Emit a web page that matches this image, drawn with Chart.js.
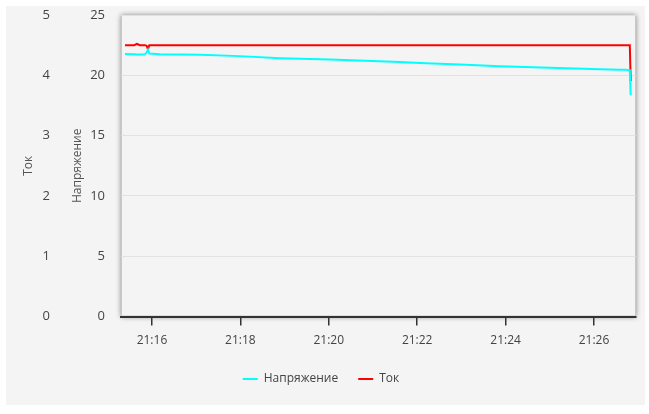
<!DOCTYPE html>
<html>
<head>
<meta charset="utf-8">
<script src="https://cdn.jsdelivr.net/npm/chart.js@4.4.1/dist/chart.umd.min.js"></script>
<style>
  html, body { margin: 0; padding: 0; background: #ffffff; }
  #wrap { position: absolute; left: 6px; top: 6px; width: 639px; height: 399px; background: #f4f4f4; }
  canvas { display: block; }
</style>
</head>
<body>
<div id="wrap"><canvas id="c" width="639" height="399"></canvas></div>
<script>
// Time in minutes after 21:00
const times = [15.39, 15.60, 15.66, 15.73, 15.84, 15.88, 15.91, 15.94, 16.18, 17.09, 17.99, 18.90, 20.03, 21.61, 22.06, 22.97, 23.87, 25.00, 26.14, 26.59, 26.70, 26.81, 26.83];
// Напряжение, V
const voltage = [21.76, 21.74, 21.73, 21.72, 21.74, 21.90, 22.13, 21.80, 21.74, 21.70, 21.59, 21.42, 21.30, 21.11, 21.03, 20.90, 20.76, 20.63, 20.51, 20.47, 20.47, 20.42, 18.34];
// Ток, A
const current = [4.50, 4.50, 4.52, 4.50, 4.50, 4.49, 4.43, 4.50, 4.50, 4.50, 4.50, 4.50, 4.50, 4.50, 4.50, 4.50, 4.50, 4.50, 4.50, 4.50, 4.50, 4.50, 3.90];
const xTicks = [16, 18, 20, 22, 24, 26];
const seriesNames = ['Напряжение', 'Ток'];

const txt = '#444444';
const fontFam = '"Open Sans", "Noto Sans", sans-serif';

const frame = {
  id: 'frame',
  beforeDraw(chart) {
    const {ctx, chartArea: a} = chart;
    ctx.save();
    ctx.shadowColor = 'rgba(0,0,0,0.45)';
    ctx.shadowBlur = 5;
    ctx.fillStyle = '#f4f4f4';
    ctx.fillRect(a.left, a.top, a.right - a.left, a.bottom - a.top);
    ctx.restore();
    ctx.save();
    ctx.strokeStyle = '#c8c8c8';
    ctx.lineWidth = 1;
    ctx.strokeRect(a.left + 0.5, a.top + 0.5, a.right - a.left - 1, a.bottom - a.top - 1);
    ctx.restore();
  }
};

function fixPad(s, w) {
  s.width = w;
  s.paddingTop = 8;
  s.paddingBottom = 8;
}

new Chart(document.getElementById('c'), {
  type: 'line',
  data: {
    datasets: [
      {
        label: seriesNames[0],
        data: times.map((t, i) => ({x: t, y: voltage[i]})),
        borderColor: '#00ffff',
        backgroundColor: '#00ffff',
        borderWidth: 2,
        pointRadius: 0,
        yAxisID: 'yV'
      },
      {
        label: seriesNames[1],
        data: times.map((t, i) => ({x: t, y: current[i]})),
        borderColor: '#ff0000',
        backgroundColor: '#ff0000',
        borderWidth: 2,
        pointRadius: 0,
        yAxisID: 'yI'
      }
    ]
  },
  options: {
    responsive: false,
    animation: false,
    layout: { padding: { left: 0, right: 9, top: 9, bottom: 10 } },
    plugins: {
      legend: {
        position: 'bottom',
        labels: {
          usePointStyle: true,
          pointStyle: 'line',
          pointStyleWidth: 15,
          boxHeight: 3,
          color: txt,
          padding: 20,
          font: { family: fontFam, size: 12 }
        }
      },
      tooltip: { enabled: false }
    },
    scales: {
      x: {
        type: 'linear',
        min: 15.30,
        max: 26.95,
        afterBuildTicks: s => { s.ticks = xTicks.map(v => ({value: v})); },
        afterFit: s => { s.height = 36.5; },
        ticks: {
          color: txt,
          padding: 7.5,
          font: { family: fontFam, size: 12 },
          callback: v => '21:' + String(Math.round(v)).padStart(2, '0')
        },
        grid: { drawOnChartArea: false, drawTicks: true, tickLength: 9, color: '#333333', lineWidth: 1.5 },
        border: { color: '#333333', width: 2 }
      },
      yV: {
        position: 'left',
        weight: 0,
        min: 0,
        max: 25,
        afterFit: s => fixPad(s, 61),
        ticks: { stepSize: 5, color: txt, padding: 16, font: { family: fontFam, size: 13 } },
        title: { display: true, text: seriesNames[0], color: '#555555', padding: { top: 10, bottom: 0 }, font: { family: fontFam, size: 12 } },
        grid: { color: '#e2e2e2', drawTicks: false, lineWidth: 1 },
        border: { display: false }
      },
      yI: {
        position: 'left',
        weight: 1,
        min: 0,
        max: 5,
        afterFit: s => fixPad(s, 54),
        ticks: { stepSize: 1, color: txt, padding: 10, font: { family: fontFam, size: 13 } },
        title: { display: true, text: seriesNames[1], color: '#555555', padding: { top: 15, bottom: 0 }, font: { family: fontFam, size: 12 } },
        grid: { display: false, drawTicks: false },
        border: { display: false }
      }
    }
  },
  plugins: [frame]
});
</script>
</body>
</html>
